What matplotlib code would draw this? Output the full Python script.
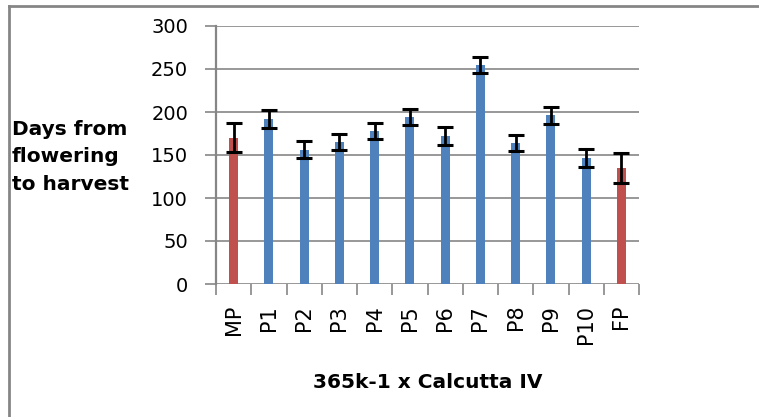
import matplotlib
matplotlib.use("Agg")
import matplotlib.pyplot as plt
from matplotlib.lines import Line2D

categories = ["MP", "P1", "P2", "P3", "P4", "P5", "P6", "P7", "P8", "P9", "P10", "FP"]
values = [170, 192, 156, 165, 178, 194, 172, 255, 164, 196, 147, 135]
errors = [17, 10.5, 10, 9.5, 9.7, 9, 10, 9.5, 9.5, 10, 10.5, 17]
bar_colors = ["#C0504D"] + ["#4F81BD"] * 10 + ["#C0504D"]
yticks = [0, 50, 100, 150, 200, 250, 300]

FONT = "DejaVu Sans"
W, H = 759, 417
fig = plt.figure(figsize=(W / 100, H / 100), dpi=100)
fig.patch.set_facecolor("white")

ax = fig.add_axes([216 / W, (H - 284) / H, (639 - 216) / W, (284 - 26) / H])
x = list(range(len(categories)))
ax.bar(x, values, width=0.26, color=bar_colors, zorder=2)
ax.errorbar(x, values, yerr=errors, fmt="none", ecolor="black",
            elinewidth=2.0, capsize=5.5, capthick=2.2, zorder=3)

ax.set_xlim(-0.5, len(categories) - 0.5)
ax.set_ylim(0, 300)
ax.set_yticks(yticks)
ax.set_yticklabels([str(t) for t in yticks], fontsize=14, family=FONT)
ax.yaxis.grid(True, color="#868686", linewidth=1.2, zorder=0)
ax.set_axisbelow(True)

# category tick marks between bars, labels at bar centers
ax.set_xticks([i - 0.5 for i in range(len(categories) + 1)], minor=False)
ax.set_xticklabels([""] * (len(categories) + 1))
ax.set_xticks(x, minor=True)
ax.set_xticklabels(categories, minor=True, rotation=90, fontsize=15,
                   family=FONT, va="top")
ax.tick_params(axis="x", which="major", length=8, width=1.2, color="#868686")
ax.tick_params(axis="x", which="minor", length=0, pad=15)
ax.tick_params(axis="y", length=8, width=1.2, color="#868686", pad=12)

for s in ["top", "right", "bottom"]:
    ax.spines[s].set_visible(False)
ax.spines["left"].set_color("#868686")
ax.spines["left"].set_linewidth(1.6)

fig.text(12 / W, (H - 157) / H, "Days from\nflowering\nto harvest",
         fontsize=14.5, fontweight="bold", family=FONT, ha="left",
         va="center", linespacing=1.55)
fig.text(428 / W, (H - 382) / H, "365k-1 x Calcutta IV", fontsize=14.5,
         fontweight="bold", family=FONT, ha="center", va="center")

# outer frame (top and left edges)
fig.add_artist(Line2D([9 / W, 9 / W], [0, (H - 6) / H], transform=fig.transFigure,
                      color="#868686", linewidth=2.0))
fig.add_artist(Line2D([9 / W, 1], [(H - 6) / H, (H - 6) / H], transform=fig.transFigure,
                      color="#868686", linewidth=2.0))

fig.savefig("out.png", dpi=100)
